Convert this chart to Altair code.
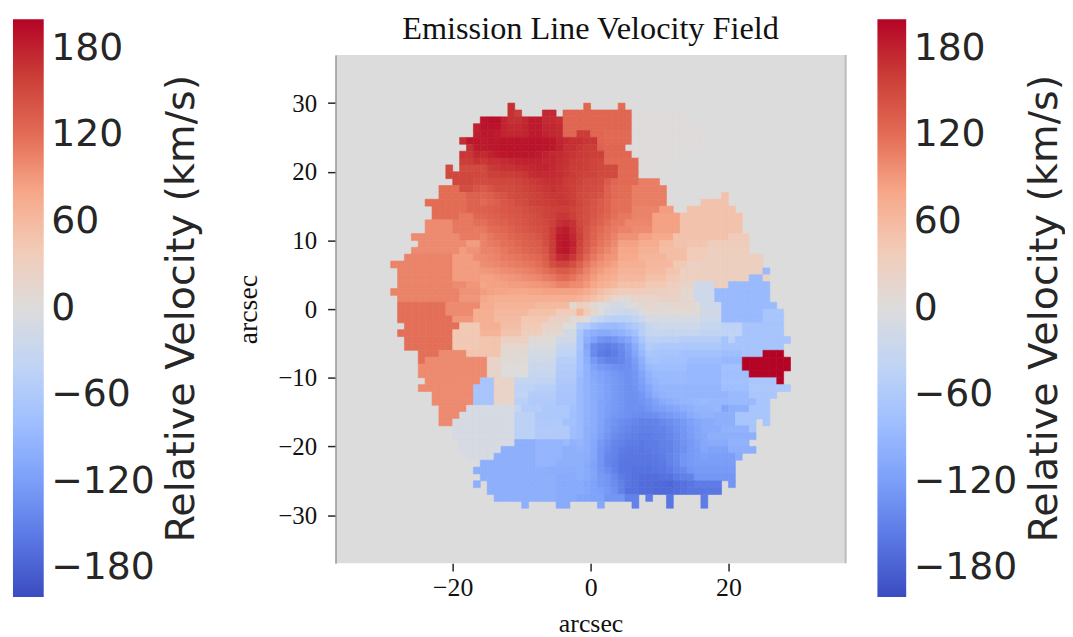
import altair as alt
import pandas as pd

tick_x = [-20, 0, 20]
tick_y = [-30, -20, -10, 0, 10, 20, 30]
tick_bar = [-180, -120, -60, 0, 60, 120, 180]
bar_ends = [-200, 200]
right_edge = [37]
palette_v = [-200, -160, -120, -80, -40, 0, 40, 80, 120, 160, 200]
palette_c = ["#3b4cc0", "#5977e3", "#7b9ff9", "#9ebeff", "#c0d4f5", "#dddcdc",
             "#f2cbb7", "#f7a889", "#e36c55", "#cb3e38", "#b40426"]
title_text = "Emission Line Velocity Field"

# each row: (first arcsec, last arcsec, km/s); key = top edge of the row
rows = {
30: [(-12,-11,170),(-1,0,125),(4,5,120)],
29: [(-12,-11,170),(-11,-10,160),(-7,-5,175),(-4,6,125),(6,14,2)],
28: [(-16,6,125),(6,14,2)],
27: [(-17,-16,180),(-16,6,125),(6,16,2)],
26: [(-17,-16,182),(-16,6,122),(6,16,2)],
25: [(-19,-18,172),(-18,-16,186),(-16,6,122),(6,17,2)],
24: [(-18,-17,170),(-17,-16,184),(-16,5,125),(6,16,2)],
23: [(-19,-17,165),(-17,-16,176),(-16,6,125),(6,14,2)],
22: [(-19,-17,160),(-17,-16,168),(-16,2,150),(2,7,122),(7,12,2)],
21: [(-21,-20,150),(-19,-16,150),(-16,3,150),(3,7,122),(7,11,2)],
20: [(-21,-16,152),(-16,3,150),(3,7,122),(7,10,2)],
19: [(-20,-17,152),(-17,-16,148),(-16,3,135),(3,7,122),(7,10,108)],
18: [(-22,-19,120),(-19,-17,148),(-17,-16,140),(-16,3,130),(3,6,120),(6,11,108)],
17: [(-22,-18,120),(-18,-16,130),(-16,3,130),(3,6,120),(6,11,108),(19,20,50)],
16: [(-24,-18,120),(-18,-16,128),(-16,3,128),(3,6,118),(6,11,108),(16,20,50)],
15: [(-23,-18,120),(-18,-16,128),(-16,3,128),(3,6,118),(6,10,105),(10,12,88),(14,21,50)],
14: [(-23,-19,120),(-19,-17,112),(-17,-16,125),(-16,3,125),(3,6,112),(6,9,105),(9,13,85),(13,22,50)],
13: [(-24,-20,100),(-20,-17,112),(-17,-16,118),(-16,3,120),(3,5,112),(5,9,102),(9,13,85),(13,22,50)],
12: [(-24,-20,100),(-20,-17,112),(-17,-16,110),(-16,3,118),(3,6,105),(6,9,99),(9,13,85),(13,22,50)],
11: [(-26,-19,100),(-19,-16,110),(-16,3,110),(3,4,105),(4,7,95),(7,9,85),(9,12,78),(12,20,50),(20,23,38)],
10: [(-25,-18,100),(-18,-16,88),(-16,3,105),(3,4,100),(4,7,85),(7,10,75),(10,12,60),(12,14,50),(14,17,48),(17,23,35)],
9: [(-26,-19,100),(-19,-18,88),(-18,-16,95),(-16,3,98),(3,4,92),(4,7,80),(7,10,70),(10,14,55),(14,17,38),(17,23,33)],
8: [(-27,-20,105),(-20,-17,88),(-17,-16,98),(-16,3,92),(3,4,90),(4,7,78),(7,11,65),(11,14,55),(14,17,38),(17,25,30)],
7: [(-29,-20,105),(-20,-16,88),(-16,3,85),(3,4,83),(4,8,72),(8,12,62),(12,14,42),(14,16,28),(16,25,30)],
6: [(-28,-20,105),(-20,-16,88),(-16,3,78),(3,4,75),(4,8,68),(8,11,60),(11,13,48),(13,16,28),(16,25,30),(25,26,-85)],
5: [(-28,-20,105),(-20,-16,88),(-16,3,72),(3,4,68),(4,8,62),(8,11,52),(11,13,42),(13,14,28),(14,23,30),(23,25,-85),(25,26,22)],
4: [(-28,-20,105),(-20,-18,100),(-18,-16,92),(-16,3,62),(3,4,58),(4,8,52),(8,11,42),(11,13,32),(13,15,18),(15,18,-20),(18,20,30),(20,26,-85)],
3: [(-29,-19,105),(-19,-16,95),(-16,3,48),(3,4,42),(4,8,38),(8,11,32),(11,13,28),(13,15,15),(15,18,-22),(18,26,-85)],
2: [(-28,-19,105),(-19,-16,92),(-16,3,10),(3,6,8),(6,10,20),(10,13,25),(13,15,12),(15,18,-22),(18,26,-85)],
1: [(-28,-21,118),(-21,-16,100),(-16,-14,75),(-14,-8,68),(-8,-3,60),(-3,10,10),(10,12,10),(12,15,15),(15,16,5),(16,19,-22),(19,27,-85)],
0: [(-28,-21,118),(-21,-17,100),(-17,-14,72),(-14,-9,62),(-9,-5,52),(-5,-2,38),(-2,10,5),(10,16,5),(16,19,-18),(19,25,-85),(25,28,-68)],
-1: [(-28,-20,118),(-20,-17,92),(-17,-14,72),(-14,-10,58),(-10,-6,45),(-6,-3,25),(-3,-2,5),(-2,16,-10),(16,19,-22),(19,25,-85),(25,28,-68)],
-2: [(-27,-19,118),(-19,-16,42),(-16,-13,72),(-13,-10,55),(-10,-7,40),(-7,-4,22),(-4,-2,0),(-2,16,-22),(16,19,-32),(19,22,-42),(22,28,-70)],
-3: [(-28,-20,118),(-20,-16,42),(-16,-13,68),(-13,-10,50),(-10,-7,32),(-7,-4,12),(-4,-2,-15),(-2,16,-32),(16,19,-38),(19,22,-40),(22,28,-70)],
-4: [(-27,-20,118),(-20,-16,42),(-16,-13,48),(-13,-9,28),(-9,-5,5),(-5,-2,-18),(-2,13,-48),(13,19,-52),(19,20,-70),(20,21,-45),(21,29,-70)],
-5: [(-27,-20,118),(-20,-16,42),(-16,-13,48),(-13,-9,15),(-9,-5,-5),(-5,-2,-30),(-2,19,-62),(19,28,-70)],
-6: [(-25,-22,118),(-22,-18,100),(-18,-13,48),(-13,-9,10),(-9,-5,-12),(-5,-2,-40),(-2,13,-70),(13,19,-75),(19,22,-80),(22,25,-70),(25,28,200)],
-7: [(-25,-24,118),(-24,-15,100),(-15,-13,22),(-13,-9,5),(-9,-5,-20),(-5,-2,-50),(-2,14,-75),(14,19,-82),(19,22,-88),(22,29,200)],
-8: [(-25,-15,100),(-15,-13,22),(-13,-9,3),(-9,-5,-25),(-5,-2,-55),(-2,14,-80),(14,19,-88),(19,22,-75),(22,29,200)],
-9: [(-25,-15,100),(-15,-13,22),(-13,-9,0),(-9,-5,-30),(-5,-2,-58),(-2,14,-85),(14,19,-88),(19,23,-78),(23,28,200)],
-10: [(-24,-16,100),(-16,-14,-70),(-14,-11,22),(-11,-8,-35),(-8,-5,-40),(-5,-2,-60),(-2,14,-85),(14,19,-88),(19,23,-75),(23,27,-65),(27,28,200)],
-11: [(-25,-17,100),(-17,-14,-70),(-14,-11,22),(-11,-8,-42),(-8,-5,-50),(-5,-2,-65),(-2,19,-92),(19,23,-78),(23,29,-62)],
-12: [(-23,-17,100),(-17,-14,-70),(-14,-11,22),(-11,-9,-40),(-9,-5,-55),(-5,-2,-68),(-2,12,-92),(12,15,-92),(15,20,-92),(20,23,-85),(23,27,-65)],
-13: [(-23,-17,100),(-17,-14,-70),(-14,-11,20),(-11,-9,-48),(-9,-5,-58),(-5,-2,-70),(-2,20,-88),(20,24,-85),(24,26,-68)],
-14: [(-22,-18,100),(-18,-11,-10),(-11,-10,-30),(-10,-7,-55),(-7,-3,-62),(-3,-2,-75),(-2,19,-88),(19,20,-112),(20,23,-100),(23,26,-68)],
-15: [(-22,-19,100),(-19,-11,-10),(-11,-8,-45),(-8,-3,-62),(-3,-2,-78),(-2,18,-95),(18,21,-100),(21,26,-68)],
-16: [(-22,-20,100),(-20,-11,-10),(-11,-8,-45),(-8,-4,-60),(-4,-2,-75),(-2,18,-105),(18,21,-100),(21,24,-68),(25,26,-68)],
-17: [(-20,-11,-10),(-11,-8,-45),(-8,-3,-58),(-3,-2,-78),(-2,19,-105),(19,23,-95),(23,24,-68)],
-18: [(-20,-11,-10),(-11,-8,-45),(-8,-3,-58),(-3,-2,-80),(-2,24,-100)],
-19: [(-19,-11,-10),(-11,-8,-100),(-8,-4,-92),(-4,-3,-85),(-3,-2,-95),(-2,20,-105),(20,23,-95)],
-20: [(-19,-13,-10),(-13,-8,-100),(-8,-4,-92),(-4,-2,-100),(-2,20,-115),(20,24,-100)],
-21: [(-18,-14,-10),(-14,-8,-100),(-8,-4,-92),(-4,-2,-100),(-2,21,-120),(21,22,-105)],
-22: [(-16,-8,-100),(-8,-5,-92),(-5,-2,-100),(-2,21,-122)],
-23: [(-17,-6,-100),(-6,-2,-102),(-2,21,-125)],
-24: [(-16,-5,-100),(-5,-2,-105),(-2,21,-128)],
-25: [(-17,-16,-100),(-15,-5,-100),(-5,-2,-105),(-2,19,-155),(20,21,-130)],
-26: [(-15,-5,-100),(-5,-2,-105),(-2,19,-160)],
-27: [(-14,-5,-100),(-5,-2,-105),(-2,0,-112),(0,2,-115),(2,5,-130),(5,7,-150),(8,9,-155),(11,12,-160),(16,17,-155)],
-28: [(-10,-9,-100),(-5,-3,-105),(1,2,-108),(6,7,-150),(11,12,-160),(16,17,-155)],
}

# finer cell-by-cell readings; first value is the cell at x = -16
north_cells = {
28: [190,192,192,178,170,170,175,184,184,174,174,170,125,125,125,125,125,125],
27: [190,190,190,178,174,174,178,184,184,176,176,174,125,125,125,125,125,125],
26: [186,186,184,178,176,176,178,184,184,178,176,174,125,125,160,160,125,125],
25: [184,186,186,188,188,190,188,190,190,188,186,178,174,170,170,165,165,125],
24: [184,186,188,190,190,190,190,190,190,188,186,180,170,170,165,160,160,130],
23: [174,180,184,186,188,188,188,186,184,180,176,174,170,166,162,160,158,158],
22: [164,170,170,174,176,178,180,180,180,176,176,172,168,162,160,158,155,152],
21: [150,162,165,168,168,172,174,176,178,178,175,170,166,160,160,158,155,152,150,150],
20: [150,158,158,160,160,162,165,172,174,174,174,172,166,162,158,155,155,150,150,150],
19: [148,150,152,152,152,155,158,162,165,168,170,168,162,160,155,150,150,148,135,125],
18: [135,142,148,148,150,152,155,158,162,165,168,165,162,158,152,150,148,145,130,122],
17: [128,132,138,142,148,150,152,155,158,162,165,165,162,158,150,148,145,142,130,122],
16: [122,128,132,138,142,148,150,155,158,160,162,165,165,160,152,146,142,135,128,118],
15: [130,132,135,138,140,142,145,150,152,155,158,160,160,155,150,145,140,135,128,120],
14: [125,130,132,135,138,140,143,146,150,155,158,165,165,158,150,145,138,132,125,118],
13: [118,125,128,130,135,138,142,145,148,152,158,170,174,168,152,145,135,128,120,112],
12: [112,120,122,125,130,135,138,142,145,150,162,180,184,172,155,142,130,122,115,110],
11: [105,112,118,120,125,130,132,135,140,148,162,184,186,176,158,140,128,118,112,105],
10: [105,110,112,118,120,125,130,132,135,145,160,184,188,180,155,138,125,115,108,100],
9: [105,105,108,112,118,120,125,128,132,140,160,184,188,176,152,135,118,110,102,95],
8: [100,102,105,110,112,115,118,122,125,135,155,174,176,164,145,125,112,102,95,92],
7: [98,100,102,105,108,110,112,115,120,128,145,155,155,145,130,115,102,95,90,85],
6: [90,92,95,98,100,102,105,108,112,118,125,135,135,128,118,105,95,88,82,78],
5: [85,85,88,90,92,95,98,100,102,108,112,120,122,115,105,98,88,80,75,72],
4: [82,85,85,85,88,88,88,90,92,95,98,105,105,100,98,90,80,72,68,62],
3: [88,85,82,82,80,80,80,82,82,85,85,85,85,85,82,75,68,55,48,42],
2: [80,75,72,72,72,72,72,72,72,72,72,72,72,72,68,60,50,42,30,15],
}

# first value is the cell at x = -2
south_cells = {
1: [35,25,10,0,-5,-15,-15,-5,5,10,15,15],
0: [65,40,15,0,-15,-22,-25,-25,-20,-5,8,8],
-1: [15,0,-22,-35,-45,-50,-50,-45,-40,-25,-10,-10],
-2: [-50,-55,-70,-80,-82,-85,-80,-70,-60,-50,-30,-25],
-3: [-65,-90,-100,-105,-105,-100,-95,-85,-75,-50,-35,-32],
-4: [-70,-100,-115,-130,-135,-130,-120,-110,-90,-65,-45,-45],
-5: [-70,-110,-140,-150,-155,-150,-140,-125,-105,-80,-55,-60],
-6: [-75,-105,-140,-155,-160,-155,-145,-130,-110,-88,-65,-68],
-7: [-75,-100,-125,-140,-148,-150,-145,-135,-120,-98,-75,-70],
-8: [-75,-95,-115,-125,-130,-135,-138,-135,-125,-105,-85,-80],
-9: [-80,-95,-108,-115,-122,-128,-132,-135,-128,-112,-95,-85],
-10: [-85,-95,-105,-112,-120,-125,-130,-135,-130,-118,-100,-90],
-11: [-85,-95,-103,-110,-118,-125,-130,-135,-132,-122,-108,-95],
-12: [-85,-95,-103,-110,-118,-125,-130,-135,-135,-128,-115,-102,-95],
-13: [-85,-95,-102,-112,-118,-125,-130,-135,-135,-132,-125,-115,-105,-100,-95,-92,-90,-88,-85],
-14: [-85,-95,-102,-112,-120,-125,-130,-135,-135,-135,-130,-122,-118,-112,-108,-102,-98,-92,-92,-90,-88],
-15: [-85,-95,-102,-112,-122,-128,-132,-135,-138,-140,-138,-135,-130,-125,-120,-115,-105,-100,-95],
-16: [-85,-95,-102,-112,-125,-132,-138,-142,-145,-150,-150,-148,-142,-138,-132,-125,-118,-110,-105],
-17: [-85,-98,-102,-115,-125,-135,-140,-145,-150,-152,-152,-150,-148,-142,-135,-128,-120,-112,-105],
-18: [-85,-98,-105,-118,-130,-140,-145,-150,-152,-155,-155,-152,-150,-145,-138,-130,-122,-112,-108],
-19: [-90,-98,-108,-125,-135,-145,-150,-155,-155,-158,-155,-155,-150,-148,-140,-132,-125,-118,-108],
-20: [-95,-100,-110,-128,-140,-148,-155,-158,-158,-160,-158,-155,-152,-150,-142,-135,-125,-120,-110],
-21: [-100,-102,-110,-130,-145,-150,-158,-160,-160,-160,-160,-158,-155,-148,-140,-130,-125,-120,-118],
-22: [-100,-105,-115,-130,-145,-152,-160,-162,-162,-162,-162,-160,-158,-150,-142,-130,-125],
-23: [-100,-105,-112,-128,-138,-150,-160,-162,-165,-165,-165,-162,-160,-155,-145,-140,-130],
-24: [-100,-105,-112,-125,-130,-142,-155,-162,-165,-168,-168,-168,-165,-165,-155,-150,-148],
-25: [-105,-110,-115,-125,-130,-138,-150,-162,-165,-168,-170,-172,-172,-175,-168,-165,-160],
-26: [-105,-108,-115,-118,-125,-135,-150,-165,-165,-168,-170,-172,-172,-172,-168,-165],
}

cells = {}
for top, spans in rows.items():
    for a, b, v in spans:
        for x in range(a, b):
            cells[(x, top)] = v
for origin, table in ((-16, north_cells), (-2, south_cells)):
    for top, values in table.items():
        for i, v in enumerate(values):
            if (origin + i, top) in cells:
                cells[(origin + i, top)] = v

df = pd.DataFrame(
    [{"x0": x, "x1": x + 1, "y0": top - 1, "y1": top, "v": v} for (x, top), v in cells.items()]
)

color_scale = alt.Scale(domain=palette_v, range=palette_c, clamp=True, interpolate="rgb")
arcsec_scale = alt.Scale(domain=[-37, 37], nice=False, zero=False)
SERIF = "Liberation Serif"
SANS = "DejaVu Sans"
INK = "#262626"
BLACK = "#111111"

x_axis = alt.Axis(values=tick_x, title="arcsec", grid=False, domain=False,
                  tickSize=8, tickWidth=1.5, tickColor=INK, labelFont=SERIF, labelFontSize=26,
                  labelColor=BLACK, titleFont=SERIF, titleFontSize=26,
                  titleFontWeight="normal", titleColor=BLACK, labelPadding=4, titlePadding=10)

pixels = (
    alt.Chart(df)
    .mark_rect(strokeWidth=0.6)
    .encode(
        x=alt.X("x0:Q", scale=arcsec_scale, axis=x_axis),
        x2="x1:Q",
        y=alt.Y("y0:Q", scale=arcsec_scale,
                axis=alt.Axis(values=tick_y, title="arcsec", grid=False, domain=True, domainColor="#999999",
                              domainWidth=1.5, tickSize=8, tickWidth=1.5, tickColor=INK, labelFont=SERIF,
                              labelFontSize=25, labelColor=BLACK, titleFont=SERIF, titleFontSize=28,
                              titleFontWeight="normal", titleColor=BLACK, labelPadding=11, titlePadding=16)),
        y2="y1:Q",
        color=alt.Color("v:Q", scale=color_scale, legend=None),
        stroke=alt.Stroke("v:Q", scale=color_scale, legend=None),
    )
)

right_spine = (
    alt.Chart(pd.DataFrame({"e": right_edge}))
    .mark_rule(color="#bbbbbb", strokeWidth=2)
    .encode(x=alt.X("e:Q", scale=arcsec_scale, axis=x_axis))
)

field = alt.layer(pixels, right_spine).properties(
    width=514, height=512, view=alt.ViewConfig(fill="#dddcdc", stroke=None)
)

heading = (
    alt.Chart(pd.DataFrame({"t": [title_text]}))
    .mark_text(font=SERIF, fontSize=32.5, color=BLACK, baseline="middle", align="center")
    .encode(text="t:N", x=alt.value(257), y=alt.value(10))
    .properties(width=514, height=35, view=alt.ViewConfig(stroke=None))
)

gradient = alt.Gradient(
    gradient="linear", x1=0, x2=0, y1=1, y2=0,
    stops=[alt.GradientStop(offset=i / (len(palette_c) - 1), color=c) for i, c in enumerate(palette_c)],
)


def colorbar(w):
    return (
        alt.Chart(pd.DataFrame({"lo": [bar_ends[0]], "hi": [bar_ends[1]]}))
        .mark_rect(color=gradient)
        .encode(
            x=alt.value(0), x2=alt.value(w),
            y=alt.Y("lo:Q", scale=alt.Scale(domain=bar_ends, nice=False, zero=False),
                    axis=alt.Axis(values=tick_bar, orient="right", title="Relative Velocity (km/s)",
                                  grid=False, domain=False, ticks=False, labelFont=SANS,
                                  labelFontSize=38, labelColor=INK, labelPadding=7, labelFontWeight="normal",
                                  titleFont=SANS, titleFontSize=40, titleFontWeight="normal", titleAngle=270,
                                  titleBaseline="top", titleColor=INK, titlePadding=8)),
            y2="hi:Q",
        )
        .properties(width=w, height=582, view=alt.ViewConfig(stroke=None))
    )


centre = alt.vconcat(heading, field, spacing=0)
chart = (
    alt.hconcat(colorbar(31), centre, colorbar(29), spacing=31)
    .properties(padding={"left": 5, "top": 3, "right": 0, "bottom": 0}, background="white")
)
chart.save("out.html", embed_options={"renderer": "svg", "actions": False})
